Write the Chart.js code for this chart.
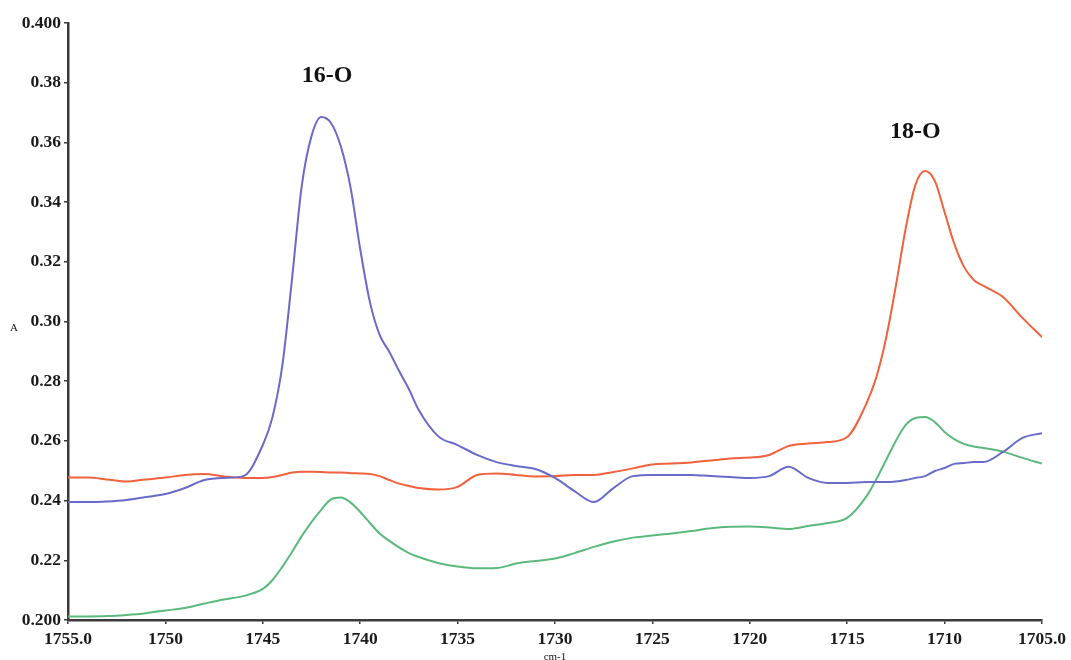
<!DOCTYPE html>
<html>
<head>
<meta charset="utf-8">
<title>IR spectrum 16-O / 18-O</title>
<script src="https://cdn.jsdelivr.net/npm/chart.js@4.4.1/dist/chart.umd.min.js"></script>
<style>
    body { margin: 0; background: #fff; }
    #wrap { width: 1071px; height: 660px; }
</style>
</head>
<body>
<div id="wrap"><canvas id="spectrumChart" width="1071" height="660"></canvas></div>
<script>
// ===== Data =====
const wavenumbers = [
    1755, 1754, 1753, 1752, 1751, 1750, 1749, 1748, 1747, 1746, 1745,
    1744.5, 1744, 1743.5, 1743, 1742.5, 1742, 1741.5, 1741, 1740.5, 1740,
    1739.5, 1739, 1738.5, 1738, 1737.5, 1737,
    1736, 1735, 1734, 1733, 1732, 1731, 1730, 1729, 1728, 1727, 1726, 1725,
    1724, 1723, 1722, 1721, 1720, 1719, 1718, 1717, 1716, 1715, 1714,
    1713.5, 1713, 1712.5, 1712, 1711.5, 1711, 1710.5, 1710, 1709.5, 1709,
    1708.5, 1708, 1707, 1706, 1705
];

const absBlue = [
    0.2395, 0.2395, 0.2397, 0.2402, 0.2412, 0.2422, 0.2442, 0.2469, 0.2476, 0.2482, 0.2586,
    0.2680, 0.2851, 0.3142, 0.3454, 0.3621, 0.3685, 0.3665, 0.3588, 0.3451, 0.3243,
    0.3065, 0.2955, 0.2898, 0.2834, 0.2774, 0.2704,
    0.2616, 0.2586, 0.2553, 0.2529, 0.2516, 0.2506, 0.2476, 0.2432, 0.2395, 0.2442, 0.2482, 0.2486,
    0.2486, 0.2486, 0.2482, 0.2479, 0.2476, 0.2482, 0.2513, 0.2476, 0.2459, 0.2459, 0.2462,
    0.2462, 0.2462, 0.2464, 0.2469, 0.2476, 0.2482, 0.2499, 0.2509, 0.2523, 0.2526,
    0.2529, 0.2529, 0.2563, 0.2610, 0.2626
];

const absRed = [
    0.2477, 0.2477, 0.2471, 0.2464, 0.2471, 0.2477, 0.2486, 0.2489, 0.2481, 0.2476, 0.2476,
    0.2479, 0.2486, 0.2494, 0.2497, 0.2497, 0.2496, 0.2494, 0.2494, 0.2492, 0.2491,
    0.2489, 0.2482, 0.2469, 0.2457, 0.2449, 0.2442,
    0.2437, 0.2446, 0.2486, 0.2491, 0.2486, 0.2481, 0.2482, 0.2486, 0.2486, 0.2496, 0.2508, 0.2521,
    0.2524, 0.2528, 0.2534, 0.2541, 0.2544, 0.2553, 0.2583, 0.2591, 0.2596, 0.2613, 0.2727,
    0.2814, 0.2945, 0.3119, 0.3310, 0.3457, 0.3504, 0.3471, 0.3367, 0.3260, 0.3183,
    0.3139, 0.3119, 0.3082, 0.3012, 0.2948
];

const absGreen = [
    0.2012, 0.2012, 0.2013, 0.2017, 0.2023, 0.2032, 0.2040, 0.2055, 0.2069, 0.2080, 0.2104,
    0.2134, 0.2178, 0.2228, 0.2281, 0.2328, 0.2369, 0.2404, 0.2410, 0.2394, 0.2362,
    0.2325, 0.2290, 0.2265, 0.2243, 0.2224, 0.2211,
    0.2191, 0.2179, 0.2173, 0.2174, 0.2189, 0.2198, 0.2206, 0.2224, 0.2245, 0.2263, 0.2276, 0.2283,
    0.2290, 0.2298, 0.2307, 0.2312, 0.2313, 0.2310, 0.2305, 0.2315, 0.2325, 0.2342, 0.2415,
    0.2472, 0.2536, 0.2600, 0.2653, 0.2677, 0.2680, 0.2663, 0.2630, 0.2606, 0.2590,
    0.2581, 0.2576, 0.2564, 0.2543, 0.2524
];

const xTickValues = [1755, 1750, 1745, 1740, 1735, 1730, 1725, 1720, 1715, 1710, 1705];
const yTickValues = [0.2, 0.22, 0.24, 0.26, 0.28, 0.30, 0.32, 0.34, 0.36, 0.38, 0.4];

const peakLabels = ['16-O', '18-O'];
const peakLabelX = [1741.7, 1711.5];
const peakLabelY = [0.3822, 0.3635];

// ===== Helpers =====
function toPoints(xs, ys) {
    return xs.map((x, i) => ({ x: x, y: ys[i] }));
}

const serif = '"Liberation Serif", "DejaVu Serif", serif';

// ===== Extra text: peak names, axis units =====
const spectrumText = {
    id: 'spectrumText',
    afterDraw(chart) {
        const ctx = chart.ctx;
        const xs = chart.scales.x;
        const ys = chart.scales.y;
        ctx.save();
        ctx.fillStyle = '#111';
        ctx.textAlign = 'center';
        ctx.textBaseline = 'middle';
        ctx.font = 'bold 24px ' + serif;
        peakLabels.forEach((label, i) => {
            ctx.fillText(label, xs.getPixelForValue(peakLabelX[i]), ys.getPixelForValue(peakLabelY[i]));
        });
        ctx.font = '11px ' + serif;
        ctx.fillText('A', 14, (ys.top + ys.bottom) / 2 + 7);
        ctx.fillText('cm-1', (xs.left + xs.right) / 2, chart.height - 3);
        ctx.restore();
    }
};

// ===== Chart =====
const axisColor = '#3a3a3a';
const tickFont = { family: serif, size: 17.5, weight: 'bold' };

new Chart(document.getElementById('spectrumChart'), {
    type: 'line',
    data: {
        datasets: [
            { label: 'blue', data: toPoints(wavenumbers, absBlue), borderColor: '#6a6ac8' },
            { label: 'red', data: toPoints(wavenumbers, absRed), borderColor: '#f0623e' },
            { label: 'green', data: toPoints(wavenumbers, absGreen), borderColor: '#5cb97e' }
        ]
    },
    options: {
        responsive: false,
        animation: false,
        devicePixelRatio: 1,
        layout: { padding: { top: 23, right: 26, left: 0, bottom: 0 } },
        elements: {
            line: { borderWidth: 2, cubicInterpolationMode: 'monotone', fill: false },
            point: { radius: 0 }
        },
        plugins: {
            legend: { display: false },
            tooltip: { enabled: false }
        },
        scales: {
            x: {
                type: 'linear',
                reverse: true,
                min: 1705,
                max: 1755,
                afterBuildTicks: scale => { scale.ticks = xTickValues.map(v => ({ value: v })); },
                afterFit: scale => { scale.height = 40; },
                ticks: {
                    autoSkip: false,
                    maxRotation: 0,
                    padding: 5,
                    color: '#1a1a1a',
                    font: tickFont,
                    callback: v => (v === 1755 || v === 1705) ? v.toFixed(1) : String(v)
                },
                grid: { drawOnChartArea: false, drawTicks: true, tickLength: 4, color: axisColor, lineWidth: 1.5 },
                border: { display: true, color: axisColor, width: 2.5 }
            },
            y: {
                type: 'linear',
                min: 0.2,
                max: 0.4,
                afterBuildTicks: scale => { scale.ticks = yTickValues.map(v => ({ value: v })); },
                afterFit: scale => { scale.width = 68; },
                ticks: {
                    padding: 3,
                    color: '#1a1a1a',
                    font: tickFont,
                    callback: v => (v === 0.2 || v === 0.4) ? v.toFixed(3) : v.toFixed(2)
                },
                grid: { drawOnChartArea: false, drawTicks: true, tickLength: 4, color: axisColor, lineWidth: 1.5 },
                border: { display: true, color: axisColor, width: 2.5 }
            }
        }
    },
    plugins: [spectrumText]
});
</script>
</body>
</html>
